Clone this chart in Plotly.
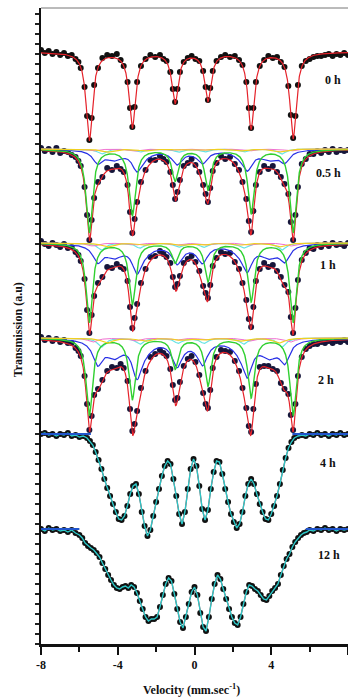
import numpy as np
import plotly.graph_objects as go

# ---------------- DATA ----------------
SPECTRA = ["0 h", "0.5 h", "1 h", "2 h", "4 h", "12 h"]

# velocity channels used for the sextet spectra (mm/s)
V_SEXT = [-8.0, -7.8, -7.6, -7.4, -7.2, -7.0, -6.8, -6.6, -6.4, -6.2, -6.05,
          -5.93, -5.73, -5.60, -5.48, -5.36, -5.23, -5.03,
          -4.80, -4.55, -4.30, -4.05, -3.85,
          -3.69, -3.49, -3.36, -3.24, -3.12, -2.99, -2.79,
          -2.55, -2.30, -2.05, -1.80, -1.62,
          -1.46, -1.26, -1.13, -1.01, -0.89, -0.76, -0.56,
          -0.35, -0.15, 0.05,
          0.25, 0.45, 0.58, 0.70, 0.82, 0.95, 1.15,
          1.38, 1.60, 1.85, 2.10, 2.32,
          2.50, 2.70, 2.83, 2.95, 3.07, 3.20, 3.40,
          3.63, 3.85, 4.08, 4.30, 4.50,
          4.69, 4.89, 5.02, 5.14, 5.26, 5.39, 5.59,
          5.80, 6.00, 6.20, 6.40, 6.60, 6.80, 7.00, 7.20, 7.40, 7.60, 7.80, 8.00]

# measured absorption (a.u., relative to each spectrum's base line)
ABS_0H = [-2, 1, -1, 2, 0, 3, 1, 4, 3, 7, 10,
          16, 35, 64, 88, 66, 33, 16,
          6, 3, 4, 2, 8,
          14, 30, 56, 75, 55, 30, 14,
          7, 3, 5, 3, 7,
          9, 20, 37, 50, 37, 20, 10,
          6, 4, 7,
          9, 19, 35, 48, 36, 19, 9,
          5, 3, 5, 4, 8,
          13, 30, 56, 76, 56, 30, 14,
          8, 4, 6, 5, 10,
          15, 34, 63, 86, 64, 33, 14,
          9, 7, 5, 4, 4, 3, 2, 4, 2, 3, 1, 3]
ABS_05H = [-1, 2, 0, 3, -1, 4, 2, 3, 6, 8, 12,
           17, 38, 66, 91, 71, 49, 33,
           28, 19, 21, 17, 20,
           23, 36, 63, 84, 70, 53, 33,
           21, 11, 11, 7, 10,
           13, 23, 36, 50, 43, 31, 17,
           14, 10, 16,
           23, 36, 45, 53, 39, 22, 14,
           7, 10, 8, 15, 21,
           33, 50, 72, 83, 62, 36, 23,
           17, 20, 17, 23, 28,
           35, 45, 73, 91, 66, 38, 15,
           10, 5, 5, 2, 4, 1, 3, 0, 3, 1, 2, 1]
ABS_1H = [-2, 1, 3, 0, 2, 4, 1, 5, 4, 9, 12,
          18, 36, 67, 90, 72, 53, 40,
          34, 24, 25, 21, 24,
          26, 38, 64, 85, 75, 61, 40,
          26, 14, 13, 8, 11,
          14, 20, 34, 44, 41, 33, 20,
          16, 13, 19,
          28, 43, 50, 55, 42, 23, 15,
          9, 11, 10, 19, 26,
          40, 57, 76, 84, 64, 38, 26,
          20, 24, 22, 28, 34,
          42, 49, 74, 90, 65, 37, 17,
          10, 5, 6, 2, 4, 1, 3, 0, 2, 1, 3, 0]
ABS_2H = [-1, 2, 0, 3, 1, 4, 2, 5, 5, 10, 13,
          18, 38, 66, 92, 78, 57, 51,
          42, 33, 29, 30, 26,
          30, 43, 71, 93, 86, 73, 50,
          33, 19, 16, 12, 15,
          18, 31, 47, 62, 60, 44, 28,
          21, 18, 24,
          37, 55, 66, 70, 52, 30, 19,
          12, 13, 14, 23, 33,
          50, 70, 88, 94, 71, 46, 29,
          28, 28, 31, 33, 45,
          51, 56, 77, 92, 66, 38, 19,
          11, 8, 6, 6, 4, 5, 3, 5, 3, 4, 2, 4]

V_4H = [-8.0, -7.8, -7.6, -7.4, -7.2, -7.0, -6.8, -6.6, -6.4, -6.2, -6.0, -5.8, -5.6,
        -5.45, -5.3, -5.15, -5.0, -4.85, -4.7, -4.55, -4.4, -4.25, -4.1,
        -3.95, -3.8, -3.65, -3.5, -3.35, -3.2, -3.05, -2.9, -2.75, -2.6,
        -2.45, -2.3, -2.15, -2.0, -1.85, -1.7, -1.55, -1.4, -1.25, -1.1,
        -0.95, -0.8, -0.65, -0.5, -0.35, -0.2, -0.05, 0.1, 0.25, 0.4,
        0.55, 0.7, 0.85, 1.0, 1.15, 1.3, 1.45, 1.6, 1.75, 1.9,
        2.05, 2.2, 2.35, 2.5, 2.65, 2.8, 2.95, 3.1, 3.25, 3.4,
        3.55, 3.7, 3.85, 4.0, 4.15, 4.3, 4.45, 4.6, 4.75, 4.9, 5.05, 5.2,
        5.4, 5.6, 5.8, 6.0, 6.2, 6.4, 6.6, 6.8, 7.0, 7.2, 7.4, 7.6, 7.8, 8.0]
ABS_4H = [0, -1, 1, 0, 2, 0, 1, -1, 2, 1, 3, 2, 4,
          7, 11, 18, 26, 35, 45, 54, 62, 70, 78,
          85, 86, 82, 72, 60, 52, 50, 60, 78, 92,
          102, 96, 82, 68, 55, 42, 32, 27, 30, 45,
          62, 80, 90, 78, 55, 35, 25, 32, 52, 75,
          86, 76, 55, 38, 27, 28, 40, 55, 68, 80,
          88, 94, 90, 78, 62, 50, 45, 50, 60, 70,
          78, 85, 86, 80, 72, 62, 50, 36, 24, 14, 8, 4,
          2, 1, 2, 0, 1, -1, 1, 0, 2, 0, 1, -1, 1, 0]

V_12H = [-8.0, -7.8, -7.6, -7.4, -7.2, -7.0, -6.8, -6.6, -6.4, -6.2, -6.0,
         -5.85, -5.7, -5.55, -5.4, -5.25, -5.1, -4.95, -4.8, -4.65, -4.5,
         -4.35, -4.2, -4.05, -3.9, -3.75, -3.6, -3.45, -3.3, -3.15, -3.0,
         -2.85, -2.7, -2.55, -2.4, -2.25, -2.1, -1.95, -1.8, -1.65, -1.5,
         -1.35, -1.2, -1.05, -0.9, -0.75, -0.6, -0.45, -0.3, -0.15, 0.0,
         0.15, 0.3, 0.45, 0.6, 0.75, 0.9, 1.05, 1.2, 1.35, 1.5,
         1.65, 1.8, 1.95, 2.1, 2.25, 2.4, 2.55, 2.7, 2.85, 3.0,
         3.15, 3.3, 3.45, 3.6, 3.75, 3.9, 4.05, 4.2, 4.35, 4.5,
         4.65, 4.8, 4.95, 5.1, 5.25, 5.4, 5.55, 5.7, 5.85,
         6.0, 6.2, 6.4, 6.6, 6.8, 7.0, 7.2, 7.4, 7.6, 7.8, 8.0]
ABS_12H = [0, 2, -1, 1, 0, 2, 1, 3, 1, 4, 6,
           9, 14, 17, 19, 21, 24, 28, 34, 40, 46,
           51, 56, 59, 60, 58, 57, 59, 56, 58, 64,
           72, 80, 88, 92, 90, 90, 88, 78, 66, 55,
           49, 52, 65, 80, 93, 99, 88, 75, 63, 58,
           66, 84, 98, 102, 88, 70, 55, 46, 50, 60,
           70, 80, 88, 94, 96, 88, 75, 63, 56, 57,
           60, 62, 66, 70, 71, 67, 62, 59, 55, 46,
           37, 30, 25, 18, 13, 9, 6, 4, 3,
           1, 2, 0, 1, -1, 1, 0, 2, 0, 1, 0]

# flat base-line parts of the 4 h / 12 h fits (velocity intervals)
BASE_SEG_4H = [[-8.0, -5.4], [5.1, 8.0]]
BASE_SEG_12H = [[-8.0, -6.0], [5.8, 8.0]]

# fitted sub-spectra: line positions (mm/s), depths and half widths
GREEN_POS = [-5.48, -3.24, -1.01, 0.70, 2.95, 5.14]
GREEN_DEPTH = {"0 h": [88, 75, 50, 48, 76, 86], "0.5 h": [83, 66, 31, 40, 64, 83],
               "1 h": [79, 61, 19, 38, 58, 79], "2 h": [77, 61, 30, 47, 59, 77]}
BLUE_A_POS = [-5.05, -3.0, -0.92, 0.42, 2.75, 4.7]
BLUE_A_DEPTH = {"0.5 h": [12, 18, 12, 11, 17, 11], "1 h": [16, 24, 16, 15, 22, 15],
                "2 h": [22, 32, 22, 20, 30, 20]}
BLUE_B_POS = [-4.2, -2.6, -0.75, 0.3, 2.4, 3.9]
BLUE_B_DEPTH = {"0.5 h": [9, 4, 2, 2, 4, 9], "1 h": [12, 6, 3, 3, 6, 12],
                "2 h": [16, 8, 4, 4, 8, 16]}
CYAN_POS = [-4.85, -2.85, -0.85, 0.5, 2.55, 4.55]
CYAN_DEPTH = {"0.5 h": [5, 3, 3, 3, 3, 5], "1 h": [7, 5, 4, 4, 5, 7], "2 h": [9, 6, 5, 5, 6, 9]}
YELLOW_POS = [-4.55, -2.6, -0.7, 0.4, 2.35, 4.4]
YELLOW_DEPTH = {"0.5 h": [3, 2, 1, 1, 2, 3], "1 h": [4, 2, 2, 2, 2, 4], "2 h": [5, 3, 2, 2, 3, 5]}
PINK_POS = [-5.3, -3.1, -0.95, 0.6, 2.85, 5.0]
PINK_DEPTH = {"0.5 h": [2, 2, 1, 1, 2, 2], "1 h": [3, 2, 2, 2, 2, 3], "2 h": [4, 3, 2, 2, 3, 4]}
HALF_WIDTH = {"green": 0.2, "blueA": 0.3, "blueB": 0.55, "cyan": 0.25, "yellow": 0.35, "pink": 0.3}

X_TICKS = [-8, -4, 0, 4, 8]
X_MINOR = [-6, -2, 2, 6]

# ---------------- LAYOUT CONSTANTS ----------------
OFFSET = {"0 h": 592, "0.5 h": 495, "1 h": 401, "2 h": 306, "4 h": 210, "12 h": 115}
LABEL_POS = {"0 h": (7.22, 564), "0.5 h": (6.96, 471), "1 h": (6.96, 379),
             "2 h": (6.85, 264), "4 h": (6.96, 181), "12 h": (7.01, 89)}
FONT = "Liberation Serif, Times New Roman, serif"
C_RED, C_GREEN, C_BLUE = "#e5222a", "#30d030", "#2830e6"
C_CYAN, C_YELLOW, C_PINK = "#66e4e4", "#f0d020", "#f070d0"
C_TEAL, C_BASE = "#2cc8c8", "#2155cc"

V_FINE = np.linspace(-8, 8, 1601)


def sextet(v, pos, depth, hw):
    out = np.zeros_like(v)
    for p, d in zip(pos, depth):
        out += d / (1.0 + ((v - p) / hw) ** 2)
    return out


def line(x, y, color, width=1.2):
    return go.Scatter(x=x, y=y, mode="lines", line=dict(color=color, width=width),
                      hoverinfo="skip")


def dots(x, y, color="#111111"):
    return go.Scatter(x=x, y=y, mode="markers",
                      marker=dict(size=6, color=color, line=dict(width=0)),
                      hoverinfo="skip")


fig = go.Figure()

# 0 h
b = OFFSET["0 h"]
fig.add_trace(dots(V_SEXT, [b - a for a in ABS_0H]))
fig.add_trace(line(V_FINE, b - sextet(V_FINE, GREEN_POS, GREEN_DEPTH["0 h"], HALF_WIDTH["green"]), C_RED))

# 0.5 h, 1 h, 2 h
for name, absv in (("0.5 h", ABS_05H), ("1 h", ABS_1H), ("2 h", ABS_2H)):
    b = OFFSET[name]
    g = sextet(V_FINE, GREEN_POS, GREEN_DEPTH[name], HALF_WIDTH["green"])
    bl = (sextet(V_FINE, BLUE_A_POS, BLUE_A_DEPTH[name], HALF_WIDTH["blueA"])
          + sextet(V_FINE, BLUE_B_POS, BLUE_B_DEPTH[name], HALF_WIDTH["blueB"]))
    cy = sextet(V_FINE, CYAN_POS, CYAN_DEPTH[name], HALF_WIDTH["cyan"])
    ye = sextet(V_FINE, YELLOW_POS, YELLOW_DEPTH[name], HALF_WIDTH["yellow"])
    pk = sextet(V_FINE, PINK_POS, PINK_DEPTH[name], HALF_WIDTH["pink"])
    tot = g + bl + cy + ye + pk
    fig.add_trace(dots(V_SEXT, [b - a for a in absv], "#16163a"))
    fig.add_trace(line(V_FINE, b - tot, C_RED))
    fig.add_trace(line(V_FINE, b - bl, C_BLUE))
    fig.add_trace(line(V_FINE, b - cy, C_CYAN))
    fig.add_trace(line(V_FINE, b - pk, C_PINK, 1.0))
    fig.add_trace(line(V_FINE, b - g, C_GREEN, 1.4))
    fig.add_trace(line(V_FINE, b - ye, C_YELLOW))

# 4 h, 12 h
for name, vv, absv, segs in (("4 h", V_4H, ABS_4H, BASE_SEG_4H),
                             ("12 h", V_12H, ABS_12H, BASE_SEG_12H)):
    b = OFFSET[name]
    yy = [b - a for a in absv]
    fig.add_trace(line(vv, yy, C_RED))
    fig.add_trace(dots(vv, yy))
    fig.add_trace(line(vv, yy, C_TEAL, 1.4))
    for s in segs:
        fig.add_trace(line(s, [b, b], C_BASE, 2.2))

annotations = []
for name in SPECTRA:
    x, y = LABEL_POS[name]
    annotations.append(dict(x=x, y=y, xref="x", yref="y", text=name, showarrow=False,
                            font=dict(family=FONT, size=12, color="#111", weight="bold"),
                            xanchor="center", yanchor="middle"))
annotations.append(dict(x=0.489, y=-0.072, xref="paper", yref="paper",
                        text="Velocity (mm.sec<sup>-1</sup>)", showarrow=False,
                        font=dict(family=FONT, size=12, color="#111", weight="bold"),
                        xanchor="center", yanchor="middle"))
annotations.append(dict(x=-0.0765, y=0.494, xref="paper", yref="paper",
                        text="Transmission (a.u)", textangle=-90, showarrow=False,
                        font=dict(family=FONT, size=12, color="#111", weight="bold"),
                        xanchor="center", yanchor="middle"))

fig.update_layout(
    width=348, height=700,
    margin=dict(l=41, r=0, t=8, b=56),
    plot_bgcolor="white", paper_bgcolor="white",
    showlegend=False,
    annotations=annotations,
    shapes=[dict(type="line", xref="paper", yref="paper", x0=0, x1=1, y0=1, y1=1,
                 line=dict(color="#777", width=1))],
    xaxis=dict(range=[-8, 8], showgrid=False, zeroline=False, showline=True,
               linecolor="#111", linewidth=2.5, ticks="outside", ticklen=8, tickwidth=2,
               tickcolor="#111", tickvals=X_TICKS, ticktext=[str(t) for t in X_TICKS],
               tickfont=dict(family=FONT, size=12, color="#111", weight="bold"),
               minor=dict(tickvals=X_MINOR, ticks="outside", ticklen=5, tickwidth=2,
                          tickcolor="#111")),
    yaxis=dict(range=[0, 636], showgrid=False, zeroline=False, showline=True,
               linecolor="#111", linewidth=2, ticks="outside", ticklen=4, tickwidth=1.5,
               tickcolor="#222", tick0=0, dtick=10, showticklabels=False),
)

fig.write_html("out.html", config={"displayModeBar": False},
               post_script="document.body.style.margin='0px';document.body.style.padding='0px';"
                           "document.documentElement.style.overflow='hidden';")
